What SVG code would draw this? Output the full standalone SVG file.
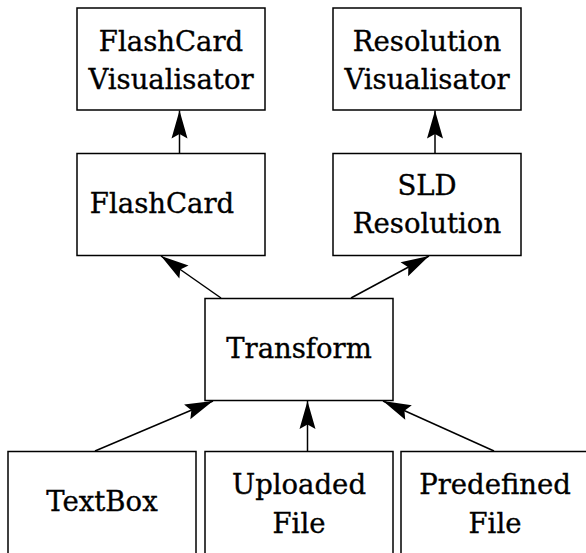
<svg xmlns="http://www.w3.org/2000/svg" width="586" height="553" viewBox="0 0 586 553">
  <style>
    .box { fill: #ffffff; stroke: #000000; stroke-width: 1.5; }
    .edge { fill: none; stroke: #000000; stroke-width: 1.5; marker-end: url(#arrow); }
    text { font-family: "DejaVu Serif", serif; font-size: 27.5px; fill: #000000; stroke: #000000; stroke-width: 0.35; text-anchor: middle; }
  </style>
  <defs>
    <marker id="arrow" markerUnits="userSpaceOnUse" markerWidth="30" markerHeight="18" refX="28" refY="8" orient="auto" overflow="visible">
      <path d="M28,8 L0,0 L4.5,8 L0,16 Z" fill="#000000"/>
    </marker>
  </defs>
  <rect width="586" height="553" fill="#ffffff"/>

  <g id="connectors">
    <line class="edge" x1="179.5" y1="153" x2="179.5" y2="110.5"/>
    <line class="edge" x1="435" y1="153" x2="435" y2="110.5"/>
    <line class="edge" x1="221" y1="298" x2="161" y2="256"/>
    <line class="edge" x1="351" y1="298" x2="429" y2="256"/>
    <line class="edge" x1="95" y1="451" x2="213" y2="401"/>
    <line class="edge" x1="307.5" y1="451" x2="307.5" y2="401"/>
    <line class="edge" x1="494" y1="451" x2="383" y2="401"/>
  </g>

  <g id="flashcard-visualisator">
    <rect class="box" x="77" y="8" width="188" height="102"/>
    <text x="171" y="51">FlashCard</text>
    <text x="171" y="89">Visualisator</text>
  </g>

  <g id="resolution-visualisator">
    <rect class="box" x="333" y="8" width="188" height="102"/>
    <text x="427" y="51">Resolution</text>
    <text x="427" y="89">Visualisator</text>
  </g>

  <g id="flashcard">
    <rect class="box" x="77" y="153.5" width="188" height="102"/>
    <text x="162" y="213">FlashCard</text>
  </g>

  <g id="sld-resolution">
    <rect class="box" x="333" y="153.5" width="188" height="102"/>
    <text x="427" y="195">SLD</text>
    <text x="427" y="233">Resolution</text>
  </g>

  <g id="transform">
    <rect class="box" x="205" y="298.5" width="188" height="102"/>
    <text x="299" y="357.5">Transform</text>
  </g>

  <g id="textbox">
    <rect class="box" x="8" y="451.5" width="188" height="120"/>
    <text x="102" y="510.5">TextBox</text>
  </g>

  <g id="uploaded-file">
    <rect class="box" x="205" y="451.5" width="188" height="120"/>
    <text x="299" y="494">Uploaded</text>
    <text x="299" y="532.5">File</text>
  </g>

  <g id="predefined-file">
    <rect class="box" x="401" y="451.5" width="188" height="120"/>
    <text x="495" y="494">Predefined</text>
    <text x="495" y="532.5">File</text>
  </g>
</svg>
